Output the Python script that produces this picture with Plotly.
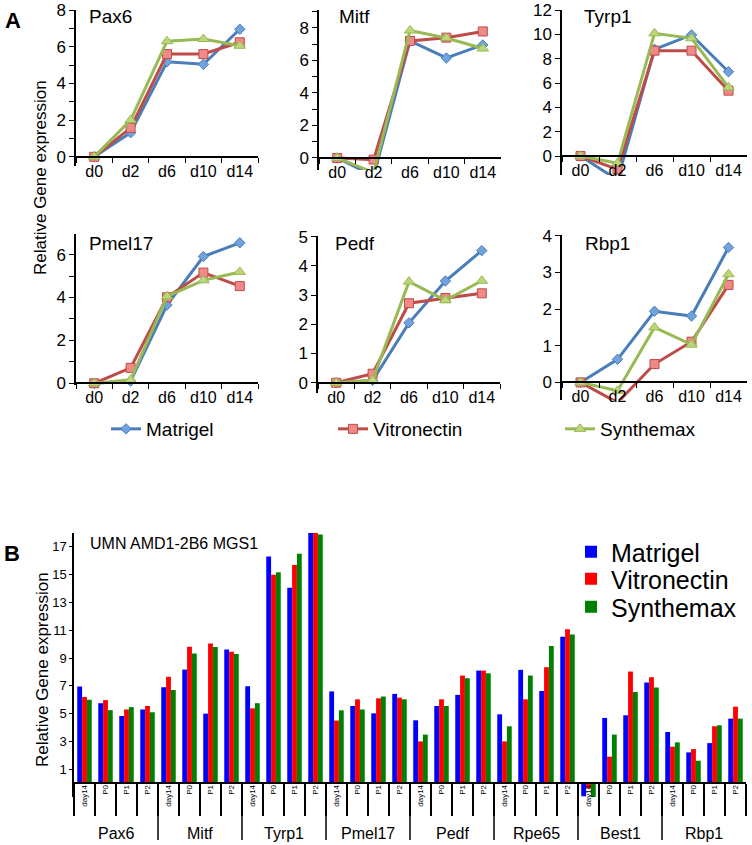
import plotly.graph_objects as go

W, H = 752, 845
FONT = "Liberation Sans, Arial, sans-serif"

# ---------------- Panel A data ----------------
days = ["d0", "d2", "d6", "d10", "d14"]
series_names = ["Matrigel", "Vitronectin", "Synthemax"]

pax6_matrigel = [0, 1.31, 5.18, 5.04, 6.95]
pax6_vitronectin = [0, 1.58, 5.6, 5.6, 6.24]
pax6_synthemax = [0, 2.0, 6.3, 6.42, 6.05]

mitf_matrigel = [0, -1.1, 7.2, 6.15, 6.95]
mitf_vitronectin = [0, -0.1, 7.2, 7.4, 7.78]
mitf_synthemax = [0, -0.9, 7.84, 7.38, 6.73]

tyrp1_matrigel = [0, -1.97, 8.77, 9.95, 6.93]
tyrp1_vitronectin = [0, -1.1, 8.66, 8.66, 5.37]
tyrp1_synthemax = [0, -0.6, 10.08, 9.67, 5.64]

pmel17_matrigel = [0, 0.1, 3.65, 5.91, 6.55]
pmel17_vitronectin = [0, 0.72, 4.01, 5.16, 4.53]
pmel17_synthemax = [0, 0.16, 4.05, 4.8, 5.19]

pedf_matrigel = [0, 0.08, 2.05, 3.48, 4.52]
pedf_vitronectin = [0, 0.31, 2.72, 2.9, 3.06]
pedf_synthemax = [0, 0.09, 3.46, 2.82, 3.49]

rbp1_matrigel = [0, 0.63, 1.94, 1.81, 3.68]
rbp1_vitronectin = [0, -0.55, 0.5, 1.11, 2.66]
rbp1_synthemax = [0, -0.23, 1.5, 1.03, 2.95]

# ---------------- Panel B data ----------------
genes_b = ["Pax6", "Mitf", "Tyrp1", "Pmel17", "Pedf", "Rpe65", "Best1", "Rbp1"]
stages_b = ["day14", "P0", "P1", "P2"]

matrigel_b = [6.95, 5.75, 4.83, 5.3,
              6.9, 8.17, 5.0, 9.62,
              6.97, 16.3, 14.06, 18.2,
              6.6, 5.55, 5.02, 6.42,
              4.52, 5.55, 6.35, 8.1,
              4.95, 8.15, 6.63, 10.53,
              -0.95, 4.69, 4.88, 7.24,
              3.68, 2.21, 2.88, 4.64]
vitronectin_b = [6.2, 5.97, 5.3, 5.55,
                 7.65, 9.82, 10.05, 9.46,
                 5.38, 15.0, 15.7, 18.2,
                 4.5, 6.03, 6.1, 6.15,
                 3.0, 6.03, 7.74, 8.1,
                 3.0, 6.03, 8.34, 11.08,
                 -0.4, 1.9, 8.03, 7.62,
                 2.62, 2.45, 4.09, 5.5]
synthemax_b = [6.0, 5.25, 5.47, 5.1,
               6.7, 9.32, 9.8, 9.3,
               5.75, 15.17, 16.5, 17.9,
               5.24, 5.3, 6.23, 6.03,
               3.49, 5.55, 7.55, 7.9,
               4.09, 7.74, 9.86, 10.7,
               -1.0, 3.49, 6.56, 6.88,
               2.93, 1.61, 4.16, 4.64]

# ---------------- styling ----------------
line_colors = ["#4a7ebb", "#be4b48", "#98b954"]
marker_fill = ["#72a2dc", "#f08a88", "#bcd67a"]
marker_symbols = ["diamond", "square", "triangle-up"]
marker_sizes = [8, 9, 10]
bar_colors = ["#0000ff", "#ff0000", "#008000"]

def xd(a, b):
    return [a / W, b / W]

def yd(top, bottom):
    return [1 - bottom / H, 1 - top / H]

panels = [
    ("Pax6", [pax6_matrigel, pax6_vitronectin, pax6_synthemax], (76, 258), (10, 166), (-0.5, 8), 157, 2, True, (87, 16)),
    ("Mitf", [mitf_matrigel, mitf_vitronectin, mitf_synthemax], (319, 501), (10, 170), (-0.74, 9.1), 158, 2, True, (337, 16)),
    ("Tyrp1", [tyrp1_matrigel, tyrp1_vitronectin, tyrp1_synthemax], (562, 747), (10, 175), (-1.56, 12), 156, 2, False, (582, 16)),
    ("Pmel17", [pmel17_matrigel, pmel17_vitronectin, pmel17_synthemax], (76, 258), (234, 385), (-0.08, 6.96), 383, 2, True, (87, 243)),
    ("Pedf", [pedf_matrigel, pedf_vitronectin, pedf_synthemax], (318, 500), (236, 393), (-0.35, 5.02), 383, 1, False, (333, 243)),
    ("Rbp1", [rbp1_matrigel, rbp1_vitronectin, rbp1_synthemax], (562, 747), (235, 400), (-0.48, 4.02), 382, 1, False, (583, 243)),
]

legendA_names = ["legend", "legend3", "legend4"]
legendA_x = [106, 333, 560]
legendB_names = ["legend2", "legend5", "legend6"]
legendB_y = [552, 579, 607]

fig = go.Figure()
layout = dict(
    width=W, height=H, margin=dict(l=0, r=0, t=0, b=0, autoexpand=False),
    paper_bgcolor="white", plot_bgcolor="rgba(0,0,0,0)",
    font=dict(family=FONT, color="black"),
    showlegend=True, bargap=0.31, bargroupgap=0.0, barmode="group",
)
annotations = []
shapes = []

for i, (name, data, xp, yp, yr, y0px, dt, minor, tpos) in enumerate(panels):
    k = i + 1
    xa = "xaxis" if k == 1 else f"xaxis{k}"
    ya = "yaxis" if k == 1 else f"yaxis{k}"
    xr = "x" if k == 1 else f"x{k}"
    yr_ = "y" if k == 1 else f"y{k}"
    for s in range(3):
        fig.add_trace(go.Scatter(
            x=days, y=data[s], mode="lines+markers", name=series_names[s],
            line=dict(color=line_colors[s], width=3),
            marker=dict(symbol=marker_symbols[s], size=marker_sizes[s], color=marker_fill[s],
                        line=dict(color=line_colors[s], width=1)),
            xaxis=xr, yaxis=yr_, showlegend=(k == 1), legend=legendA_names[s], cliponaxis=False,
        ))
    layout[xa] = dict(
        domain=xd(*xp), type="category", range=[-0.5, 4.5], anchor="free",
        position=1 - y0px / H, showline=True, linecolor="black", linewidth=1.5,
        ticks="outside", ticklen=5, tickcolor="black", tickson="boundaries",
        tickfont=dict(size=16, family=FONT), showgrid=False, zeroline=False, fixedrange=True,
    )
    yax = dict(
        domain=yd(*yp), range=list(yr), anchor=xr, showline=True, linecolor="black",
        linewidth=1.5, ticks="outside", ticklen=5, tickcolor="black", tick0=0, dtick=dt,
        tickfont=dict(size=17, family=FONT), showgrid=False, zeroline=False, fixedrange=True,
    )
    if minor:
        yax["minor"] = dict(ticks="outside", ticklen=5, tickcolor="black", dtick=1, tick0=0)
    layout[ya] = yax
    annotations.append(dict(text=name, x=tpos[0] / W, y=1 - tpos[1] / H, xanchor="left",
                            yanchor="middle", showarrow=False, font=dict(size=19, family=FONT)))

# ---------------- Panel B ----------------
cat_b = [f"{g} {s}" for g in genes_b for s in stages_b]
stage_labels = [s for _ in genes_b for s in stages_b]
for s, vals in enumerate([matrigel_b, vitronectin_b, synthemax_b]):
    fig.add_trace(go.Bar(
        x=cat_b, y=vals, name=series_names[s],
        marker=dict(color=bar_colors[s], line=dict(width=0)),
        xaxis="x7", yaxis="y7", legend=legendB_names[s],
    ))

layout["xaxis7"] = dict(
    domain=xd(74, 746), type="category", anchor="free", position=1 - 783 / H,
    categoryorder="array", categoryarray=cat_b,
    tickmode="array", tickvals=cat_b, ticktext=stage_labels,
    showline=True, linecolor="black", linewidth=1.5, ticks="outside", ticklen=32,
    tickcolor="black", tickwidth=1.5, tickson="boundaries", tickangle=-90,
    ticklabelstandoff=-2, tickfont=dict(size=8, family=FONT),
    showgrid=False, zeroline=False, fixedrange=True,
)
layout["yaxis7"] = dict(
    domain=yd(533, 797), range=[-1.0, 18], anchor="x7", showline=True, linecolor="black",
    linewidth=1.5, ticks="outside", ticklen=3, tickcolor="black",
    tickvals=[1, 3, 5, 7, 9, 11, 13, 15, 17], tickfont=dict(size=13, family=FONT),
    showgrid=False, zeroline=False, fixedrange=True,
)

# gene group labels and long dividers
n_st = len(stages_b)
for g, gene in enumerate(genes_b):
    annotations.append(dict(text=gene, x=g * n_st + (n_st - 1) / 2, xref="x7", y=1 - 833 / H,
                            yref="paper", xanchor="center", yanchor="middle", showarrow=False,
                            font=dict(size=16, family=FONT)))
    if g > 0:
        shapes.append(dict(type="line", xref="x7", yref="paper", x0=g * n_st - 0.5, x1=g * n_st - 0.5,
                           y0=1 - 783 / H, y1=1 - 840 / H, line=dict(color="black", width=1.5)))

for s in range(3):
    layout[legendA_names[s]] = dict(
        orientation="h", x=legendA_x[s] / W, y=1 - 429 / H, xanchor="left", yanchor="middle",
        font=dict(size=19, family=FONT), bgcolor="rgba(0,0,0,0)", itemclick=False,
    )
    layout[legendB_names[s]] = dict(
        orientation="v", x=571 / W, y=1 - legendB_y[s] / H, xanchor="left", yanchor="middle",
        font=dict(size=25, family=FONT), bgcolor="rgba(0,0,0,0)", itemclick=False,
    )

annotations += [
    dict(text="<b>A</b>", x=3 / W, y=1 - 21 / H, xanchor="left", yanchor="middle", showarrow=False,
         font=dict(size=22, family=FONT)),
    dict(text="<b>B</b>", x=2 / W, y=1 - 553 / H, xanchor="left", yanchor="middle", showarrow=False,
         font=dict(size=22, family=FONT)),
    dict(text="Relative Gene expression", x=40 / W, y=1 - 178 / H, textangle=-90, showarrow=False,
         xanchor="center", yanchor="middle", font=dict(size=17, family=FONT)),
    dict(text="Relative Gene expression", x=42 / W, y=1 - 670 / H, textangle=-90, showarrow=False,
         xanchor="center", yanchor="middle", font=dict(size=17, family=FONT)),
    dict(text="UMN AMD1-2B6 MGS1", x=88 / W, y=1 - 543 / H, xanchor="left", yanchor="middle",
         showarrow=False, font=dict(size=16, family=FONT)),
]
for a in annotations:
    a.setdefault("xref", "paper")
    a.setdefault("yref", "paper")
layout["annotations"] = annotations
layout["shapes"] = shapes

fig.update_layout(**layout)
fig.write_html("out.html", config={"displayModeBar": False},
               post_script="document.body.style.margin='0px';")
